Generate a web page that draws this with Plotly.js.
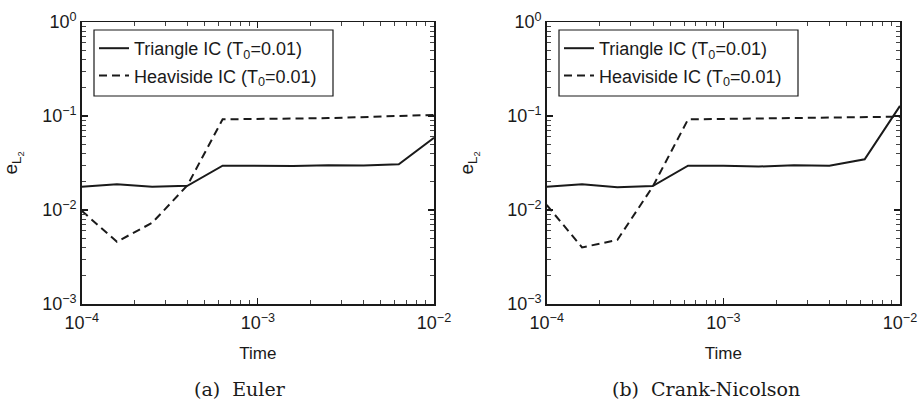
<!DOCTYPE html>
<html><head><meta charset="utf-8">
<script src="https://cdn.plot.ly/plotly-3.0.1.min.js"></script>
<style>html,body{margin:0;padding:0;background:#fff}</style>
</head><body><div id="chart" style="width:918px;height:405px"></div>
<script>
const timeValues = [1e-4, 1.585e-4, 2.512e-4, 3.981e-4, 6.31e-4, 1e-3, 1.585e-3, 2.512e-3, 3.981e-3, 6.31e-3, 1e-2];
const eulerTriangle = [0.0177, 0.0188, 0.0177, 0.0181, 0.0296, 0.0295, 0.0294, 0.0300, 0.0297, 0.0306, 0.0588];
const eulerHeaviside = [0.0098, 0.0046, 0.0073, 0.0183, 0.0922, 0.0925, 0.094, 0.095, 0.097, 0.099, 0.1026];
const cnTriangle = [0.0177, 0.0188, 0.0175, 0.0180, 0.0296, 0.0296, 0.0290, 0.0300, 0.0296, 0.0346, 0.128];
const cnHeaviside = [0.0113, 0.0040, 0.0048, 0.0177, 0.0920, 0.093, 0.093, 0.094, 0.095, 0.096, 0.0984];
const seriesNames = ['Triangle IC (T<sub>0</sub>=0.01)', 'Heaviside IC (T<sub>0</sub>=0.01)'];
const xTickVals = [1e-4, 1e-3, 1e-2];
const xTickText = ['10<sup>\u22124</sup>', '10<sup>\u22123</sup>', '10<sup>\u22122</sup>'];
const yTickVals = [1e-3, 1e-2, 1e-1, 1];
const yTickText = ['10<sup>\u22123</sup>', '10<sup>\u22122</sup>', '10<sup>\u22121</sup>', '10<sup>0</sup>'];
const minorDigits = [2, 3, 4, 5, 6, 7, 8, 9];
const xDecades = [1e-4, 1e-3];
const yDecades = [1e-3, 1e-2, 1e-1];
const xTitle = 'Time';
const yTitle = 'e<sub>L<sub>2</sub></sub>';
const captions = ['(a)  Euler', '(b)  Crank-Nicolson'];

const xMinor = [];
xDecades.forEach(d => minorDigits.forEach(m => xMinor.push(d * m)));
const yMinor = [];
yDecades.forEach(d => minorDigits.forEach(m => yMinor.push(d * m)));

const sans = 'Liberation Sans, Arial, Helvetica, sans-serif';
const serif = 'DejaVu Serif, Liberation Serif, serif';
const ink = '#1a1a1a';
const solid = {color: ink, width: 2, dash: 'solid'};
const dashed = {color: ink, width: 2, dash: '8px,5px'};

const traces = [
  {x: timeValues, y: eulerTriangle, name: seriesNames[0], mode: 'lines', line: solid, xaxis: 'x', yaxis: 'y', legend: 'legend', legendgroup: 'a1'},
  {x: timeValues, y: eulerHeaviside, name: seriesNames[1], mode: 'lines', line: dashed, xaxis: 'x', yaxis: 'y', legend: 'legend', legendgroup: 'a2'},
  {x: timeValues, y: cnTriangle, name: seriesNames[0], mode: 'lines', line: solid, xaxis: 'x2', yaxis: 'y2', legend: 'legend2', legendgroup: 'b1'},
  {x: timeValues, y: cnHeaviside, name: seriesNames[1], mode: 'lines', line: dashed, xaxis: 'x2', yaxis: 'y2', legend: 'legend2', legendgroup: 'b2'}
];

const xDomA = [81.7/918, 434/918];
const xDomB = [546.7/918, 900/918];
const yDom = [1 - 304/405, 1 - 22/405];

function axBase(minorVals) {
  return {
    type: 'log', showline: true, linecolor: ink, linewidth: 1.5, mirror: 'allticks',
    ticks: 'inside', ticklen: 6, tickwidth: 1.2, tickcolor: ink,
    showgrid: false, zeroline: false, tickmode: 'array',
    tickfont: {family: sans, size: 18, color: ink},
    minor: {tickmode: 'array', tickvals: minorVals, ticks: 'inside', ticklen: 4, tickwidth: 1, tickcolor: '#444', showgrid: false}
  };
}
function xAx(domain, anchor) {
  return Object.assign(axBase(xMinor), {domain: domain, anchor: anchor, range: [-4, -2],
    tickvals: xTickVals, ticktext: xTickText, ticklabelstandoff: 2,
    title: {text: xTitle, font: {family: sans, size: 17, color: ink}, standoff: 15}});
}
function yAx(anchor) {
  return Object.assign(axBase(yMinor), {domain: yDom, anchor: anchor, range: [-3, 0],
    tickvals: yTickVals, ticktext: yTickText, ticklabelstandoff: 0,
    title: {text: yTitle, font: {family: sans, size: 19, color: ink}, standoff: 28}});
}
function legendCfg(x) {
  return {x: x, y: 1 - 30/405, xanchor: 'left', yanchor: 'top', bgcolor: 'rgba(0,0,0,0)',
    borderwidth: 0, font: {family: sans, size: 18, color: ink},
    tracegroupgap: 1, itemwidth: 30};
}
function legendBox(x0, x1) {
  return {type: 'rect', xref: 'paper', yref: 'paper', x0: x0/918, x1: x1/918,
    y0: 1 - 96/405, y1: 1 - 30/405, layer: 'above',
    fillcolor: '#fff', line: {color: ink, width: 1.2}};
}

const layout = {
  width: 918, height: 405, margin: {l: 0, r: 0, t: 0, b: 0},
  paper_bgcolor: '#fff', plot_bgcolor: '#fff', showlegend: true,
  xaxis: xAx(xDomA, 'y'),
  yaxis: yAx('x'),
  xaxis2: xAx(xDomB, 'y2'),
  yaxis2: yAx('x2'),
  legend: legendCfg(94/918),
  legend2: legendCfg(559/918),
  shapes: [legendBox(94, 333), legendBox(559, 798)],
  annotations: [
    {text: captions[0], x: 240/918, y: 1 - 389/405, xref: 'paper', yref: 'paper', showarrow: false,
     xanchor: 'center', yanchor: 'middle', font: {family: serif, size: 19, color: ink}},
    {text: captions[1], x: 706/918, y: 1 - 389/405, xref: 'paper', yref: 'paper', showarrow: false,
     xanchor: 'center', yanchor: 'middle', font: {family: serif, size: 19, color: ink}}
  ]
};

Plotly.newPlot('chart', traces, layout, {staticPlot: true, displayModeBar: false});
</script></body></html>
